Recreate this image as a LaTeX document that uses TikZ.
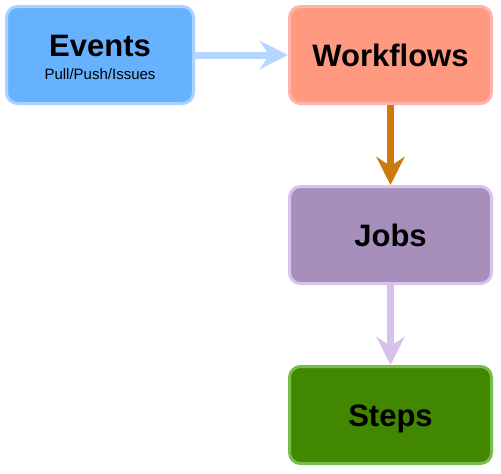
\documentclass[tikz,border=0pt]{standalone}
\usepackage{fontspec}
\setmainfont{Liberation Sans}
\usetikzlibrary{arrows.meta}
\definecolor{evFill}{HTML}{66B2FF}
\definecolor{evLine}{HTML}{AAD2FF}
\definecolor{wfFill}{HTML}{FF9980}
\definecolor{wfLine}{HTML}{FFB3AB}
\definecolor{jbFill}{HTML}{A68FBB}
\definecolor{jbLine}{HTML}{D9C3EE}
\definecolor{stFill}{HTML}{418800}
\definecolor{stLine}{HTML}{78BC4A}
\definecolor{arBlue}{HTML}{B5D6FF}
\definecolor{arOrange}{HTML}{CC7A0D}
\definecolor{arPurple}{HTML}{D8C2EC}
\tikzset{
  box/.style={draw, line width=3pt, rounded corners=11pt, inner sep=0pt,
    minimum height=97pt, minimum width=202pt,
    font=\fontsize{31}{37}\selectfont\bfseries, text height=22.2pt, text depth=0pt},
  flow/.style={line width=7pt, -{Stealth[length=28pt, width=28pt, inset=9pt]}}
}
\begin{document}
\begin{tikzpicture}[x=1pt, y=-1pt]
\useasboundingbox[fill=white] (0,0) rectangle (501,474);
\node[box, fill=evFill, draw=evLine, minimum width=187pt] (events) at (100,55) {};
\node[anchor=base, inner sep=0pt, font=\fontsize{31}{37}\selectfont\bfseries] (evTitle) at (100,56) {Events};
\node[anchor=base, inner sep=0pt, font=\fontsize{15}{18}\selectfont] (evSub) at (100,79) {Pull/Push/Issues};
\node[box, fill=wfFill, draw=wfLine] (workflows) at (390.5,55) {Workflows};
\node[box, fill=jbFill, draw=jbLine] (jobs) at (390.5,235) {Jobs};
\node[box, fill=stFill, draw=stLine] (steps) at (390.5,415) {Steps};
\draw[flow, arBlue] (events.east) -- (workflows.west);
\draw[flow, arOrange] (workflows.south) -- (jobs.north);
\draw[flow, arPurple] (jobs.south) -- (steps.north);
\end{tikzpicture}
\end{document}
